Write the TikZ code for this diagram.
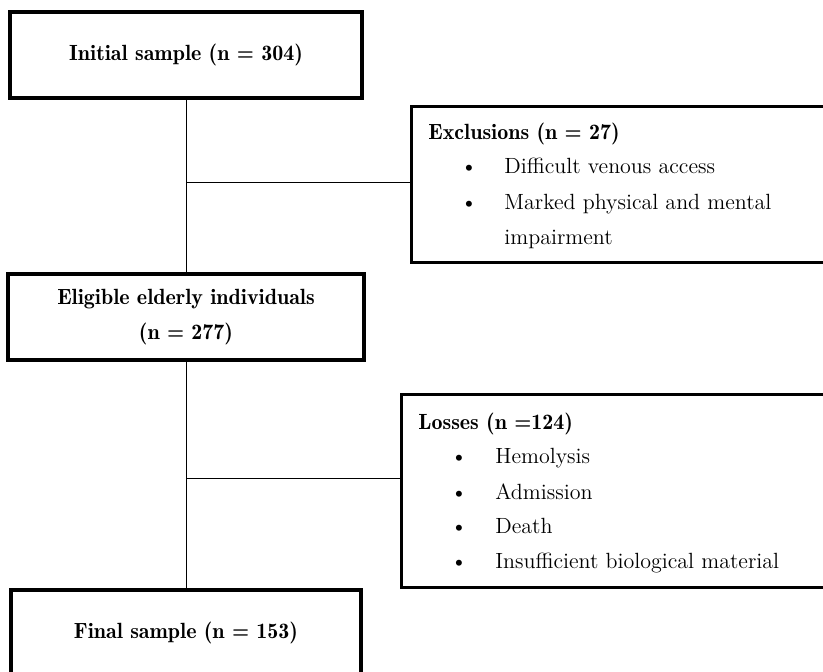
\documentclass[tikz,border=0pt]{standalone}
\usepackage{tikz}
\usetikzlibrary{positioning}

\tikzset{
  mainbox/.style={draw, line width=2pt, minimum width=#1, minimum height=43pt,
    align=center, font=\fontsize{11}{17.5}\fontseries{b}\selectfont, inner sep=0pt},
  sidebox/.style={draw, line width=1.4pt, anchor=north west, inner sep=0pt},
  link/.style={line width=0.5pt},
  txt/.style={anchor=base west, inner sep=0pt, font=\fontsize{11}{13}\selectfont},
  head/.style={txt, font=\fontsize{11}{13}\fontseries{b}\selectfont},
  dot/.style={anchor=base, inner sep=0pt, font=\fontsize{11}{13}\selectfont}
}

\begin{document}
\begin{tikzpicture}[x=0.5pt, y=-0.5pt]

\useasboundingbox (0,0) rectangle (823,671);
\clip (0,0) rectangle (823,671);

% Main boxes
\node[mainbox=176pt] (init) at (186,55) {Initial sample (n = 304)};
\node[mainbox=178pt] (elig) at (186,317) {Eligible elderly individuals\\(n = 277)};
\node[mainbox=175pt] (final) at (186,632.5) {Final sample (n = 153)};

% Side boxes
\node[sidebox, minimum width=210pt, minimum height=78pt] (excl) at (410,105) {};
\node[sidebox, minimum width=215pt, minimum height=96.5pt] (loss) at (400,393) {};

% Connectors
\draw[link] (init.south) -- (elig.north);
\draw[link] (elig.south) -- (final.north);
\coordinate (excljoin) at (186,182);
\draw[link] (excljoin) -- (excljoin -| excl.west);
\coordinate (lossjoin) at (186,478);
\draw[link] (lossjoin) -- (lossjoin -| loss.west);

% Exclusions text
\node[head] (exclhead) at (428,139) {Exclusions (n = 27)};
\foreach \t/\y [count=\i] in {Difficult venous access/173, Marked physical and mental/209} {
  \node[dot] (exdot\i) at (469,\y) {\textbullet};
  \node[txt] (exitem\i) at (504,\y) {\t};
}
\node[txt] (exitem3) at (504,244) {impairment};

% Losses text
\node[head] (losshead) at (418,429) {Losses (n =124)};
\foreach \t/\y [count=\i] in {Hemolysis/463, Admission/499, Death/533, Insufficient biological material/568} {
  \node[dot] (lsdot\i) at (459,\y) {\textbullet};
  \node[txt] (lsitem\i) at (495,\y) {\t};
}

\end{tikzpicture}
\end{document}
